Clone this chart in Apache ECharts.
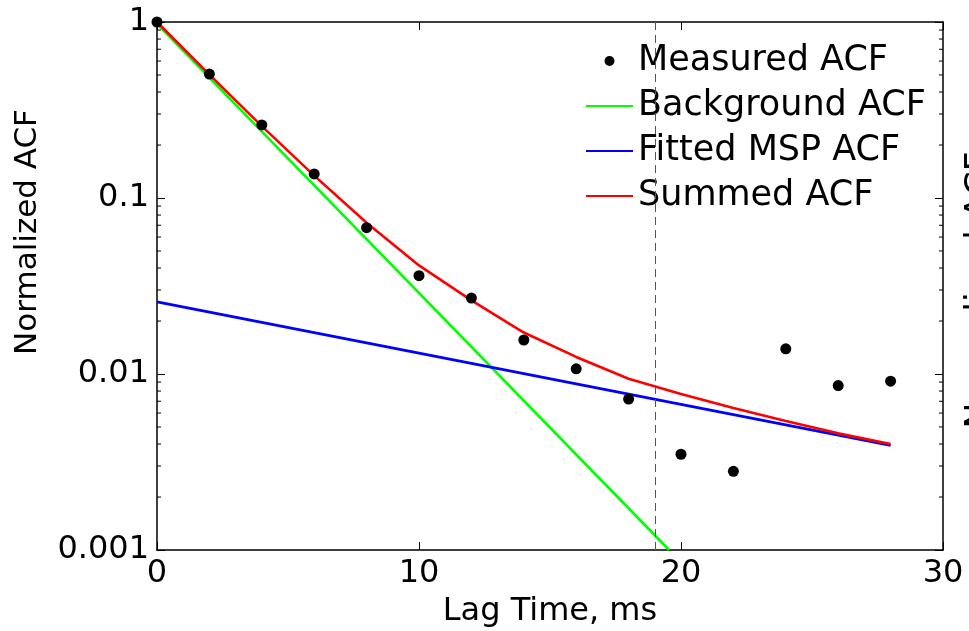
<!DOCTYPE html>
<html>
<head>
<meta charset="utf-8">
<script src="https://cdn.jsdelivr.net/npm/echarts@6/dist/echarts.min.js"></script>
<style>
html,body{margin:0;padding:0;background:#fff;}
#chart{width:969px;height:631px;}
</style>
</head>
<body>
<div id="chart"></div>
<script>
// ---- data ----
const lagTimes = [0, 2, 4, 6, 8, 10, 12, 14, 16, 18, 20, 22, 24, 26, 28];
const measuredACF = [1, 0.506, 0.260, 0.137, 0.0678, 0.0362, 0.0270, 0.0156, 0.0107, 0.0072, 0.0035, 0.0028, 0.0139, 0.0086, 0.0091];
const summedACF = [1.0, 0.502, 0.256, 0.134, 0.0724, 0.0414, 0.0262, 0.0172, 0.0125, 0.0094, 0.0077, 0.0064, 0.0054, 0.0046, 0.0040];
const backgroundT = [0, 19.55];
const backgroundACF = [0.975, 0.001];
const mspT = [0, 28];
const mspACF = [0.0257, 0.00393];
const cutoffLag = 19;
const xTicks = [0, 10, 20, 30];
const yTickLabels = {'-3': '0.001', '-2': '0.01', '-1': '0.1', '0': '1'};
const seriesNames = ['Measured ACF', 'Background ACF', 'Fitted MSP ACF', 'Summed ACF'];

const FONT = 'DejaVu Sans';
const pair = (xs, ys) => xs.map((x, i) => [x, ys[i]]);

const chart = echarts.init(document.getElementById('chart'), null, {renderer: 'canvas'});

const axisLineStyle = {color: '#000', width: 1.5};
const tickStyle = {color: '#000', width: 1};
const hiddenSymbol = {opacity: 0};

const option = {
  animation: false,
  backgroundColor: '#fff',
  grid: {left: 157, right: 26, top: 22, bottom: 81, containLabel: false, outerBoundsMode: 'none'},
  legend: {
    orient: 'vertical',
    left: 585,
    top: 41,
    padding: 0,
    itemWidth: 47,
    itemHeight: 10,
    itemGap: 5,
    selectedMode: false,
    textStyle: {fontFamily: FONT, fontSize: 35, color: '#000', lineHeight: 40, padding: [0, 0, 0, 0]},
    data: [
      {name: seriesNames[0], icon: 'circle', itemStyle: {color: '#000', opacity: 1}},
      {name: seriesNames[1], itemStyle: hiddenSymbol},
      {name: seriesNames[2], itemStyle: hiddenSymbol},
      {name: seriesNames[3], itemStyle: hiddenSymbol}
    ]
  },
  xAxis: [{
    type: 'value', min: xTicks[0], max: xTicks[xTicks.length - 1], interval: 10, position: 'bottom',
    name: 'Lag Time, ms', nameLocation: 'middle', nameGap: 46,
    nameTextStyle: {fontFamily: FONT, fontSize: 32, color: '#000'},
    axisLine: {show: true, onZero: false, lineStyle: axisLineStyle},
    axisTick: {show: true, inside: true, length: 8, lineStyle: tickStyle},
    axisLabel: {fontFamily: FONT, fontSize: 32, color: '#000', margin: 8},
    splitLine: {show: false}
  }, {
    type: 'value', min: xTicks[0], max: xTicks[xTicks.length - 1], interval: 10, position: 'top',
    axisLine: {show: true, onZero: false, lineStyle: axisLineStyle},
    axisTick: {show: true, inside: true, length: 8, lineStyle: tickStyle},
    axisLabel: {show: false},
    splitLine: {show: false}
  }],
  yAxis: [{
    type: 'log', logBase: 10, min: 0.001, max: 1, position: 'left',
    axisLine: {show: true, onZero: false, lineStyle: axisLineStyle},
    axisTick: {show: true, inside: true, length: 8, lineStyle: tickStyle},
    axisLabel: {fontFamily: FONT, fontSize: 32, color: '#000', margin: 8,
      formatter: v => yTickLabels[String(Math.round(Math.log10(v)))] || ''},
    splitLine: {show: false}
  }, {
    type: 'log', logBase: 10, min: 0.001, max: 1, position: 'right',
    axisLine: {show: true, onZero: false, lineStyle: axisLineStyle},
    axisTick: {show: true, inside: true, length: 8, lineStyle: tickStyle},
    axisLabel: {show: false},
    splitLine: {show: false}
  }],
  series: [{
    name: seriesNames[1], type: 'line', xAxisIndex: 0, yAxisIndex: 0,
    data: pair(backgroundT, backgroundACF),
    symbol: 'none', showSymbol: false,
    lineStyle: {color: '#00ff00', width: 2.6}, itemStyle: {color: '#00ff00'}, z: 3
  }, {
    name: seriesNames[2], type: 'line', xAxisIndex: 0, yAxisIndex: 0,
    data: pair(mspT, mspACF),
    symbol: 'none', showSymbol: false,
    lineStyle: {color: '#0000ff', width: 2.6}, itemStyle: {color: '#0000ff'}, z: 4
  }, {
    name: seriesNames[3], type: 'line', xAxisIndex: 0, yAxisIndex: 0,
    data: pair(lagTimes, summedACF),
    symbol: 'none', showSymbol: false,
    lineStyle: {color: '#ff0000', width: 2.6}, itemStyle: {color: '#ff0000'}, z: 5
  }, {
    name: seriesNames[0], type: 'scatter', xAxisIndex: 0, yAxisIndex: 0,
    data: pair(lagTimes, measuredACF),
    symbol: 'circle', symbolSize: 11, clip: false,
    itemStyle: {color: '#000', opacity: 1}, z: 6,
    markLine: {
      silent: true, symbol: 'none', label: {show: false},
      lineStyle: {type: [8, 5], color: '#555', width: 1},
      data: [{xAxis: cutoffLag}]
    }
  }],
  graphic: [{
    type: 'text', x: 28, y: 232, rotation: Math.PI / 2,
    style: {text: 'Normalized ACF', font: '31px "DejaVu Sans"', fill: '#000', textAlign: 'center', textVerticalAlign: 'middle'}
  }, {
    type: 'text', x: 981, y: 290, rotation: Math.PI / 2,
    style: {text: 'Normalized ACF', font: '35px "DejaVu Sans"', fill: '#000', textAlign: 'center', textVerticalAlign: 'middle'}
  }]
};
chart.setOption(option);

// minor log ticks (2..9 within each decade), placed through the axis scale
const minor = [];
const xl = chart.convertToPixel({xAxisIndex: 0}, 0);
const xr = chart.convertToPixel({xAxisIndex: 0}, 30);
[0.001, 0.01, 0.1].forEach(d => {
  for (let m = 2; m <= 9; m++) {
    const y = chart.convertToPixel({yAxisIndex: 0}, m * d);
    minor.push({type: 'line', silent: true, shape: {x1: xl, y1: y, x2: xl + 4, y2: y}, style: {stroke: '#000', lineWidth: 1}});
    minor.push({type: 'line', silent: true, shape: {x1: xr, y1: y, x2: xr - 4, y2: y}, style: {stroke: '#000', lineWidth: 1}});
  }
});
chart.setOption({graphic: option.graphic.concat(minor)});
</script>
</body>
</html>
